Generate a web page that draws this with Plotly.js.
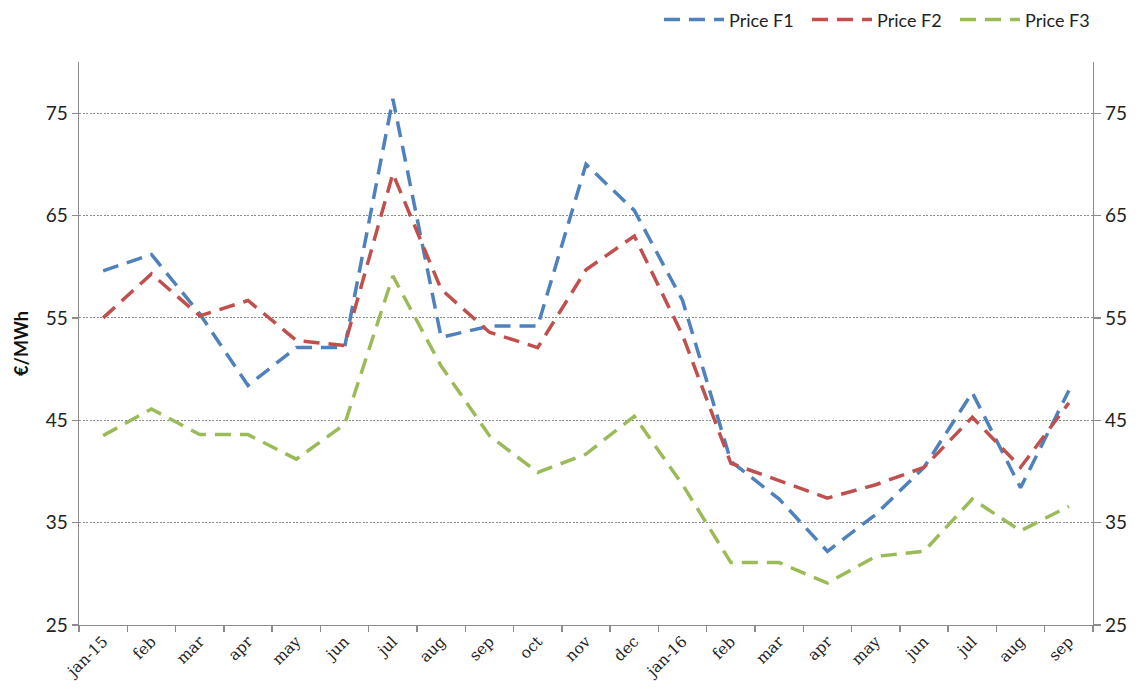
<!DOCTYPE html>
<html>
<head>
<meta charset="utf-8">
<script src="https://cdn.plot.ly/plotly-3.0.1.min.js"></script>
<style>
  html, body { margin: 0; padding: 0; background: #fff; }
  #chart { width: 1143px; height: 691px; }
</style>
</head>
<body>
<div id="chart"></div>
<script>
// Monthly energy prices by time band, €/MWh
const months = ['jan-15','feb','mar','apr','may','jun','jul','aug','sep','oct','nov','dec',
                'jan-16','feb','mar','apr','may','jun','jul','aug','sep'];
const priceF1 = [59.6, 61.2, 55.4, 48.4, 52.1, 52.1, 76.4, 53.1, 54.2, 54.2, 70.0, 65.5,
                 56.7, 41.0, 37.3, 32.2, 35.8, 40.4, 47.7, 38.4, 47.9];
const priceF2 = [55.0, 59.3, 55.2, 56.7, 52.8, 52.3, 69.1, 57.8, 53.6, 52.1, 59.7, 63.0,
                 53.3, 40.8, 39.1, 37.4, 38.7, 40.4, 45.3, 40.4, 46.7];
const priceF3 = [43.5, 46.1, 43.6, 43.6, 41.2, 44.6, 59.1, 50.3, 43.5, 39.9, 41.7, 45.4,
                 38.7, 31.1, 31.1, 29.1, 31.7, 32.2, 37.3, 34.2, 36.6];
const seriesNames = ['Price F1', 'Price F2', 'Price F3'];
const yTicks = [25, 35, 45, 55, 65, 75];

// month positions (numeric so repeated month names stay separate)
const xIdx = months.map((_, i) => i);
const colors = ['#4F81BD', '#C0504D', '#9BBB59'];
const series = [priceF1, priceF2, priceF3];

const traces = series.map((vals, i) => ({
  type: 'scatter',
  mode: 'lines',
  name: seriesNames[i],
  x: xIdx,
  y: vals,
  line: { color: colors[i], width: 3.5, dash: '16px,9px' },
  hoverinfo: 'x+y'
}));

// copy of the first series on the right-hand axis so that axis is laid out
traces.push({
  type: 'scatter', mode: 'lines', x: xIdx, y: priceF1, yaxis: 'y2',
  line: { color: 'rgba(0,0,0,0)', width: 0 }, showlegend: false, hoverinfo: 'skip'
});

const axisGrey = '#8c8c8c';
const serif = '"DejaVu Serif", "Liberation Serif", serif';
const sans = 'Lato, "Open Sans", "Liberation Sans", sans-serif';

const layout = {
  width: 1143,
  height: 691,
  margin: { l: 79, r: 50, t: 62, b: 66, autoexpand: false },
  paper_bgcolor: '#ffffff',
  plot_bgcolor: '#ffffff',
  showlegend: true,
  legend: {
    orientation: 'h',
    x: 0.572, xanchor: 'left',
    y: 1.075, yanchor: 'middle',
    font: { family: sans, size: 18, color: '#222' },
    itemwidth: 60,
    entrywidth: 73,
    tracegroupgap: 0,
    bgcolor: 'rgba(0,0,0,0)'
  },
  xaxis: {
    range: [-0.5, months.length - 0.5],
    tickmode: 'array',
    tickvals: xIdx,
    ticktext: months,
    tickangle: -45,
    ticks: '',
    tickfont: { family: serif, size: 15.5, color: '#222' },
    showgrid: false,
    zeroline: false,
    showline: true,
    linecolor: axisGrey,
    linewidth: 1.3,
    minor: {
      tickmode: 'linear', tick0: -0.5, dtick: 1,
      ticks: 'outside', ticklen: 6, tickcolor: axisGrey, tickwidth: 1.3,
      showgrid: false
    },
    fixedrange: true
  },
  yaxis: {
    range: [25, 80],
    tickmode: 'array',
    tickvals: yTicks,
    ticks: 'outside',
    ticklen: 6,
    tickcolor: axisGrey,
    tickwidth: 1.3,
    tickfont: { family: sans, size: 19, color: '#222' },
    showgrid: true,
    gridcolor: '#8a8a8a',
    gridwidth: 1,
    griddash: '2px,1.5px',
    zeroline: false,
    showline: true,
    linecolor: axisGrey,
    linewidth: 1.3,
    title: {
      text: '€/MWh',
      font: { family: sans, size: 18, color: '#111', weight: 'bold' },
      standoff: 12
    },
    fixedrange: true
  },
  yaxis2: {
    overlaying: 'y',
    side: 'right',
    range: [25, 80],
    tickmode: 'array',
    tickvals: yTicks,
    ticks: 'outside',
    ticklen: 7,
    tickcolor: axisGrey,
    tickwidth: 1.3,
    tickfont: { family: sans, size: 19, color: '#222' },
    showgrid: false,
    zeroline: false,
    showline: true,
    linecolor: axisGrey,
    linewidth: 1.3,
    fixedrange: true
  }
};

Plotly.newPlot('chart', traces, layout, { displayModeBar: false, staticPlot: true });
</script>
</body>
</html>
